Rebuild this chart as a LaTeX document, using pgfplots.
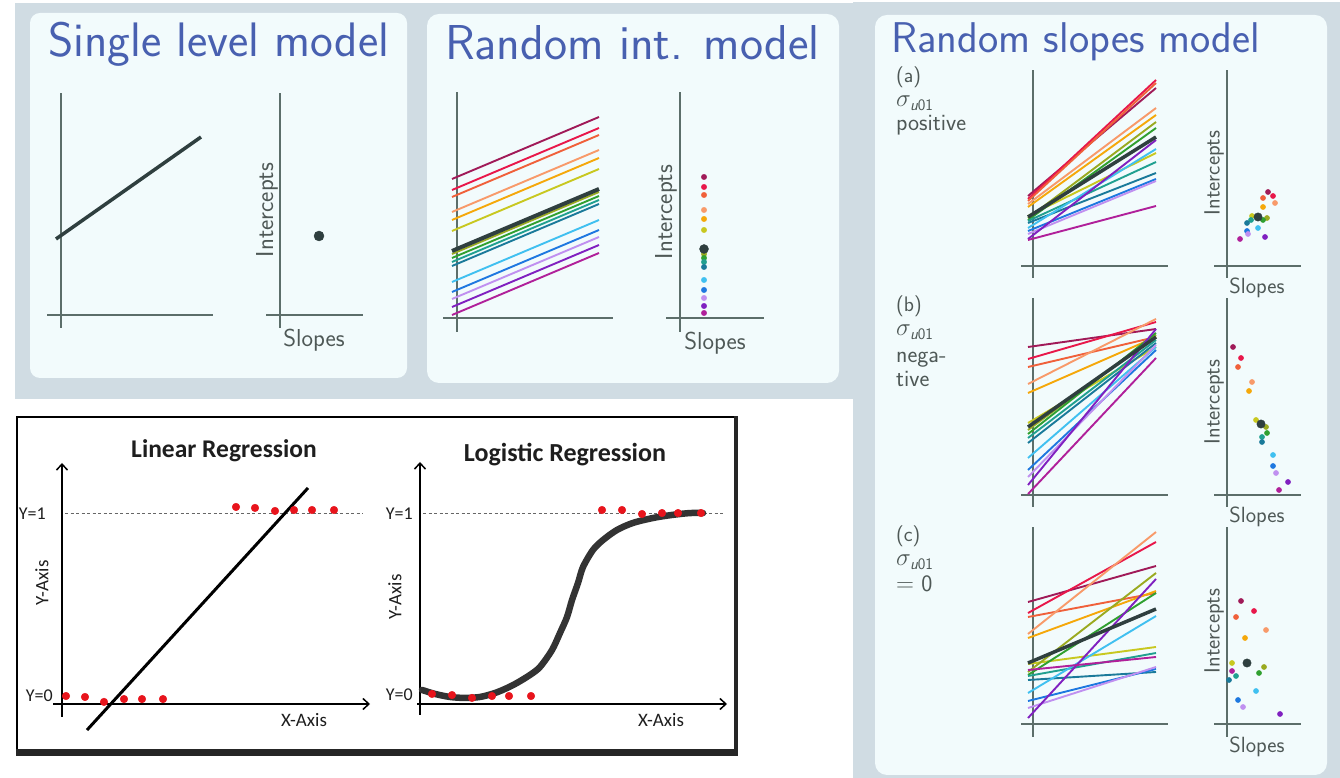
\documentclass[border=0pt]{standalone}
\usepackage{amsmath}
\usepackage{fontspec}
\newfontfamily\carlito{Carlito}
\usepackage{pgfplots}
\pgfplotsset{compat=1.18}
\usetikzlibrary{arrows.meta}

\definecolor{bgGray}{RGB}{208,220,227}
\definecolor{panel}{RGB}{242,251,252}
\definecolor{titleBlue}{RGB}{72,96,176}
\definecolor{axGray}{RGB}{92,110,106}
\definecolor{txtGray}{RGB}{78,88,86}
\definecolor{darkSl}{RGB}{47,63,63}
\definecolor{cMaroon}{RGB}{160,26,88}
\definecolor{cRed}{RGB}{232,23,74}
\definecolor{cOrRed}{RGB}{240,96,58}
\definecolor{cSalmon}{RGB}{248,154,106}
\definecolor{cOrange}{RGB}{245,168,10}
\definecolor{cYellow}{RGB}{200,200,32}
\definecolor{cOlive}{RGB}{154,170,32}
\definecolor{cGreen}{RGB}{48,160,48}
\definecolor{cTeal}{RGB}{32,160,144}
\definecolor{cTealBlue}{RGB}{26,122,154}
\definecolor{cCyan}{RGB}{64,192,240}
\definecolor{cBlue}{RGB}{30,120,224}
\definecolor{cLav}{RGB}{192,144,240}
\definecolor{cPurple}{RGB}{128,32,192}
\definecolor{cMagenta}{RGB}{176,32,154}
\definecolor{regRed}{RGB}{232,20,28}
\definecolor{regTxt}{RGB}{30,30,30}

\pgfplotsset{
  schem/.style={hide axis, scale only axis, clip=false, anchor=south west},
  ln/.style={line width=1.9pt, no marks},
  rainbow/.style={scatter/classes={
    a={mark=*,cMaroon}, b={mark=*,cRed}, c={mark=*,cOrRed}, d={mark=*,cSalmon},
    e={mark=*,cOrange}, f={mark=*,cYellow}, g={mark=*,cOlive}, h={mark=*,cGreen},
    i={mark=*,cTeal}, j={mark=*,cTealBlue}, k={mark=*,cCyan}, l={mark=*,cBlue},
    m={mark=*,cLav}, n={mark=*,cPurple}, o={mark=*,cMagenta}}},
}
\tikzset{axline/.style={axGray, line width=1.6pt}}
\newcommand\Ln[5]{\addplot[ln,#1] coordinates {(#2,#3) (#4,#5)};}
\newcommand\sig{$\sigma_{\textsf{\itshape u}\textsf{01}}$}

\begin{document}
\begin{tikzpicture}[x=1pt,y=1pt]
% ---------- backgrounds ----------
\fill[white] (0,0) rectangle (1340,778);
\fill[bgGray] (15,{778-3}) rectangle (860,{778-399});
\fill[bgGray] (853,0) rectangle (1340,{778-2});
\fill[panel, rounded corners=10pt] (30,{778-13}) rectangle (407,{778-378});
\fill[panel, rounded corners=12pt] (427,{778-14}) rectangle (839,{778-383});
\fill[panel, rounded corners=12pt] (875,{778-15}) rectangle (1327,{778-775});
% bottom-left framed box
\fill[white] (17,{778-417}) rectangle (736,{778-752});
\draw[black, line width=2pt] (17,{778-417}) rectangle (736,{778-752});
\fill[black!85] (16,{778-749}) rectangle (738,{778-756});
\fill[black!85] (734,{778-416}) rectangle (738,{778-756});

% ---------- titles and labels ----------
\begin{scope}[every node/.style={inner sep=0pt}]
\node[anchor=base west, titleBlue, font=\fontsize{48.4}{52}\selectfont\sffamily] at (48,{778-57}) {Single level model};
\node[anchor=base west, titleBlue, font=\fontsize{49}{52}\selectfont\sffamily] at (445,{778-60}) {Random int. model};
\node[anchor=base west, titleBlue, font=\fontsize{43}{46}\selectfont\sffamily] at (891,{778-53}) {Random slopes model};
\node[rotate=90, txtGray, font=\fontsize{24.5}{26}\selectfont\sffamily] at (267,{778-210}) {Intercepts};
\node[txtGray, font=\fontsize{24.5}{26}\selectfont\sffamily] at (314,{778-340}) {Slopes};
\node[rotate=90, txtGray, font=\fontsize{24.5}{26}\selectfont\sffamily] at (666,{778-212}) {Intercepts};
\node[txtGray, font=\fontsize{24.5}{26}\selectfont\sffamily] at (715,{778-343}) {Slopes};
\foreach \yy in {173,402,631} {\node[rotate=90, txtGray, font=\fontsize{22}{24}\selectfont\sffamily] at (1214,{778-\yy}) {Intercepts};}
\foreach \yy in {288,517,747} {\node[txtGray, font=\fontsize{22}{24}\selectfont\sffamily] at (1257,{778-\yy}) {Slopes};}
\node[anchor=base west, txtGray, font=\fontsize{21}{22}\selectfont\sffamily] at (896,{778-83}) {(a)};
\node[anchor=base west, txtGray, font=\fontsize{23}{24}\selectfont\sffamily] at (896,{778-107}) {\sig};
\node[anchor=base west, txtGray, font=\fontsize{23.5}{24}\selectfont\sffamily] at (896,{778-131}) {positive};
\node[anchor=base west, txtGray, font=\fontsize{21}{22}\selectfont\sffamily] at (896,{778-312}) {(b)};
\node[anchor=base west, txtGray, font=\fontsize{23}{24}\selectfont\sffamily] at (896,{778-336}) {\sig};
\node[anchor=base west, txtGray, font=\fontsize{23.5}{24}\selectfont\sffamily] at (896,{778-363}) {nega-};
\node[anchor=base west, txtGray, font=\fontsize{23.5}{24}\selectfont\sffamily] at (896,{778-387}) {tive};
\node[anchor=base west, txtGray, font=\fontsize{21}{22}\selectfont\sffamily] at (896,{778-542}) {(c)};
\node[anchor=base west, txtGray, font=\fontsize{23}{24}\selectfont\sffamily] at (896,{778-566}) {\sig};
\node[anchor=base west, txtGray, font=\fontsize{23.5}{24}\selectfont\sffamily] at (896,{778-592}) {$=$ 0};
\node[anchor=base, regTxt, font=\carlito\bfseries\fontsize{25.5}{28}\selectfont] at (224,{778-458}) {Linear Regression};
\node[anchor=base, regTxt, font=\carlito\bfseries\fontsize{26}{28}\selectfont] at (565,{778-462}) {Logistic Regression};
\node[anchor=east, regTxt, font=\carlito\fontsize{18}{20}\selectfont] at (46,{778-514}) {Y=1};
\node[anchor=east, regTxt, font=\carlito\fontsize{18}{20}\selectfont] at (53,{778-696}) {Y=0};
\node[rotate=90, regTxt, font=\carlito\fontsize{19}{20}\selectfont] at (42,{778-583}) {Y-Axis};
\node[regTxt, font=\carlito\fontsize{19}{20}\selectfont] at (304,{778-720}) {X-Axis};
\node[anchor=east, regTxt, font=\carlito\fontsize{18}{20}\selectfont] at (413,{778-514}) {Y=1};
\node[anchor=east, regTxt, font=\carlito\fontsize{18}{20}\selectfont] at (413,{778-695}) {Y=0};
\node[rotate=90, regTxt, font=\carlito\fontsize{19}{20}\selectfont] at (395,{778-597}) {Y-Axis};
\node[regTxt, font=\carlito\fontsize{19}{20}\selectfont] at (661,{778-720}) {X-Axis};
\end{scope}

% ---------- Single level model ----------
\begin{axis}[schem, at={(47pt,450pt)}, width=166pt, height=235pt, xmin=-14, xmax=152, ymin=-13, ymax=222]
\draw[axline] (axis cs:-14,0) -- (axis cs:152,0);
\draw[axline] (axis cs:0,-13) -- (axis cs:0,222);
\addplot[no marks, darkSl, line width=3.5pt] coordinates {(-5,76) (140,178)};
\end{axis}
\begin{axis}[schem, at={(266pt,450pt)}, width=97pt, height=235pt, xmin=-14, xmax=83, ymin=-13, ymax=222]
\draw[axline] (axis cs:-14,0) -- (axis cs:83,0);
\draw[axline] (axis cs:0,-13) -- (axis cs:0,222);
\addplot[only marks, mark=*, darkSl, mark size=5pt] coordinates {(39,79)};
\end{axis}

% ---------- Random intercept model ----------
\begin{axis}[schem, at={(443pt,446pt)}, width=170pt, height=240pt, xmin=-14, xmax=156, ymin=-14, ymax=226]
\draw[axline] (axis cs:-14,0) -- (axis cs:156,0);
\draw[axline] (axis cs:0,-14) -- (axis cs:0,226);
\Ln{cMaroon}{-5}{139}{142}{201}
\Ln{cRed}{-5}{128}{142}{190}
\Ln{cOrRed}{-5}{121}{142}{183}
\Ln{cSalmon}{-5}{106}{142}{168}
\Ln{cOrange}{-5}{98}{142}{160}
\Ln{cYellow}{-5}{87}{142}{149}
\Ln{cOlive}{-5}{64}{142}{126}
\Ln{cGreen}{-5}{60}{142}{122}
\Ln{cTeal}{-5}{56}{142}{118}
\Ln{cTealBlue}{-5}{52}{142}{114}
\Ln{cCyan}{-5}{36}{142}{98}
\Ln{cBlue}{-5}{26}{142}{88}
\Ln{cLav}{-5}{19}{142}{81}
\Ln{cPurple}{-5}{11}{142}{73}
\Ln{cMagenta}{-5}{3}{142}{65}
\addplot[no marks, darkSl, line width=4pt] coordinates {(-5,67) (142,129)};
\end{axis}
\begin{axis}[schem, at={(666pt,446pt)}, width=98pt, height=240pt, xmin=-14, xmax=84, ymin=-14, ymax=226]
\draw[axline] (axis cs:-14,0) -- (axis cs:84,0);
\draw[axline] (axis cs:0,-14) -- (axis cs:0,226);
\addplot[scatter, only marks, scatter src=explicit symbolic, mark size=2.7pt, rainbow] table[meta=c] {
x y c
24 141 a
24 131 b
24 123 c
24 108 d
24 99 e
24 88 f
24 64 g
24 60 h
24 56 i
24 51 j
24 38 k
24 28 l
24 20 m
24 12 n
24 5 o
};
\addplot[only marks, mark=*, darkSl, mark size=4.5pt] coordinates {(24,69)};
\end{axis}

% ---------- Random slopes (a) ----------
\begin{axis}[schem, at={(1021pt,500pt)}, width=147pt, height=208pt, xmin=-12, xmax=135, ymin=-12, ymax=196]
\draw[axline] (axis cs:-12,0) -- (axis cs:135,0);
\draw[axline] (axis cs:0,-12) -- (axis cs:0,196);
\Ln{cMaroon}{-5}{70}{123}{178}
\Ln{cRed}{-5}{67}{123}{186}
\Ln{cOrRed}{-5}{65}{123}{183}
\Ln{cSalmon}{-5}{62}{123}{158}
\Ln{cOrange}{-5}{59}{123}{151}
\Ln{cYellow}{-5}{50}{123}{113}
\Ln{cOlive}{-5}{48}{123}{144}
\Ln{cGreen}{-5}{46}{123}{138}
\Ln{cTeal}{-5}{45}{123}{104}
\Ln{cTealBlue}{-5}{43}{123}{93}
\Ln{cCyan}{-5}{38}{123}{117}
\Ln{cBlue}{-5}{35}{123}{87}
\Ln{cLav}{-5}{32}{123}{85}
\Ln{cPurple}{-5}{27}{123}{126}
\Ln{cMagenta}{-5}{26}{123}{60}
\addplot[no marks, darkSl, line width=3.5pt] coordinates {(-5,49) (123,129)};
\end{axis}
\begin{axis}[schem, at={(1214pt,500pt)}, width=87pt, height=208pt, xmin=-13, xmax=74, ymin=-12, ymax=196]
\draw[axline] (axis cs:-13,0) -- (axis cs:74,0);
\draw[axline] (axis cs:0,-12) -- (axis cs:0,196);
\addplot[scatter, only marks, scatter src=explicit symbolic, mark size=2.6pt, rainbow] table[meta=c] {
x y c
41 74 a
46 70 b
36 68 c
48 63 d
36 59 e
25 50 f
40 48 g
36 46 h
24 46 i
20 43 j
31 38 k
20 35 l
21 32 m
38 29 n
13 27 o
};
\addplot[only marks, mark=*, darkSl, mark size=4.2pt] coordinates {(31,49)};
\end{axis}

% ---------- Random slopes (b) ----------
\begin{axis}[schem, at={(1021pt,271pt)}, width=147pt, height=209pt, xmin=-12, xmax=135, ymin=-12, ymax=197]
\draw[axline] (axis cs:-12,0) -- (axis cs:135,0);
\draw[axline] (axis cs:0,-12) -- (axis cs:0,197);
\Ln{cMaroon}{-5}{148}{123}{166}
\Ln{cRed}{-5}{136}{123}{173}
\Ln{cOrRed}{-5}{128}{123}{158}
\Ln{cSalmon}{-5}{111}{123}{176}
\Ln{cOrange}{-5}{102}{123}{158}
\Ln{cYellow}{-5}{72}{123}{148}
\Ln{cOlive}{-5}{65}{123}{160}
\Ln{cGreen}{-5}{61}{123}{162}
\Ln{cTeal}{-5}{57}{123}{155}
\Ln{cTealBlue}{-5}{52}{123}{152}
\Ln{cCyan}{-5}{37}{123}{148}
\Ln{cBlue}{-5}{25}{123}{145}
\Ln{cLav}{-5}{18}{123}{150}
\Ln{cPurple}{-5}{10}{123}{166}
\Ln{cMagenta}{-5}{1}{123}{137}
\addplot[no marks, darkSl, line width=3.5pt] coordinates {(-5,68) (123,158)};
\end{axis}
\begin{axis}[schem, at={(1214pt,271pt)}, width=87pt, height=209pt, xmin=-13, xmax=74, ymin=-12, ymax=197]
\draw[axline] (axis cs:-13,0) -- (axis cs:74,0);
\draw[axline] (axis cs:0,-12) -- (axis cs:0,197);
\addplot[scatter, only marks, scatter src=explicit symbolic, mark size=2.6pt, rainbow] table[meta=c] {
x y c
6 148 a
14 137 b
11 128 c
25 113 d
22 104 e
29 75 f
39 68 g
40 62 h
35 58 i
35 53 j
46 40 k
46 29 l
49 22 m
61 13 n
52 5 o
};
\addplot[only marks, mark=*, darkSl, mark size=4.2pt] coordinates {(34,71)};
\end{axis}

% ---------- Random slopes (c) ----------
\begin{axis}[schem, at={(1021pt,41pt)}, width=147pt, height=210pt, xmin=-12, xmax=135, ymin=-13, ymax=197]
\draw[axline] (axis cs:-12,0) -- (axis cs:135,0);
\draw[axline] (axis cs:0,-13) -- (axis cs:0,197);
\Ln{cMaroon}{-5}{122}{123}{158}
\Ln{cRed}{-5}{111}{123}{182}
\Ln{cOrRed}{-5}{107}{123}{131}
\Ln{cSalmon}{-5}{90}{123}{192}
\Ln{cOrange}{-5}{86}{123}{133}
\Ln{cYellow}{-5}{60}{123}{77}
\Ln{cOlive}{-5}{52}{123}{151}
\Ln{cGreen}{-5}{49}{123}{131}
\Ln{cTeal}{-5}{48}{123}{71}
\Ln{cTealBlue}{-5}{44}{123}{52}
\Ln{cCyan}{-5}{31}{123}{108}
\Ln{cBlue}{-5}{23}{123}{55}
\Ln{cLav}{-5}{16}{123}{57}
\Ln{cPurple}{-5}{6}{123}{145}
\Ln{cMagenta}{-5}{54}{123}{67}
\addplot[no marks, darkSl, line width=3.5pt] coordinates {(-5,61) (123,115)};
\end{axis}
\begin{axis}[schem, at={(1214pt,41pt)}, width=87pt, height=210pt, xmin=-13, xmax=74, ymin=-13, ymax=197]
\draw[axline] (axis cs:-13,0) -- (axis cs:74,0);
\draw[axline] (axis cs:0,-13) -- (axis cs:0,197);
\addplot[scatter, only marks, scatter src=explicit symbolic, mark size=2.6pt, rainbow] table[meta=c] {
x y c
14 123 a
27 113 b
9 107 c
39 94 d
18 86 e
5 61 f
37 57 g
32 51 h
9 48 i
2 44 j
29 33 k
11 24 l
16 17 m
53 10 n
5 53 o
};
\addplot[only marks, mark=*, darkSl, mark size=4.2pt] coordinates {(20,61)};
\end{axis}

% ---------- Linear regression ----------
\begin{axis}[schem, at={(53pt,48pt)}, width=317pt, height=267pt, xmin=-9, xmax=308, ymin=-0.13684, ymax=1.26842]
\draw[black, line width=1.5pt, -{Straight Barb[length=6pt,width=11pt]}] (axis cs:0,-0.0684) -- (axis cs:0,1.2684);
\draw[black, line width=1.5pt, -{Straight Barb[length=6pt,width=11pt]}] (axis cs:-9,0) -- (axis cs:308,0);
\addplot[no marks, black!60, line width=1pt, dash pattern=on 3pt off 2.5pt] coordinates {(3,1) (301,1)};
\addplot[no marks, black, line width=3pt] coordinates {(25,-0.137) (246,1.137)};
\addplot[only marks, mark=*, regRed, mark size=3.8pt] coordinates {
(174,1.037) (193,1.032) (213,1.016) (232,1.021) (250,1.021) (272,1.021)
(4,0.042) (23,0.037) (42,0.011) (62,0.026) (80,0.026) (101,0.026)};
\end{axis}

% ---------- Logistic regression ----------
\begin{axis}[schem, at={(417pt,63pt)}, width=310pt, height=253pt, xmin=-3, xmax=307, ymin=-0.05789, ymax=1.27368]
\draw[black, line width=1.5pt, -{Straight Barb[length=6pt,width=11pt]}] (axis cs:0,-0.05789) -- (axis cs:0,1.2737);
\draw[black, line width=1.5pt, -{Straight Barb[length=6pt,width=11pt]}] (axis cs:-3,0) -- (axis cs:307,0);
\addplot[no marks, black!60, line width=1pt, dash pattern=on 3pt off 2.5pt] coordinates {(3,1) (305,1)};
\addplot[no marks, smooth, black!80, line width=6.5pt, line cap=round] coordinates {
(2,0.074) (15,0.053) (30,0.037) (45,0.032) (60,0.037) (75,0.058) (87,0.084) (97,0.111)
(110,0.153) (120,0.195) (132,0.284) (140,0.374) (147,0.458) (152,0.547) (158,0.637)
(163,0.721) (173,0.811) (183,0.863) (197,0.916) (213,0.953) (233,0.979) (252,0.995)
(270,1.005) (283,1.005)};
\addplot[only marks, mark=*, regRed, mark size=3.8pt] coordinates {
(182,1.021) (202,1.021) (222,1.0) (242,1.005) (258,1.005) (281,1.005)
(12,0.053) (32,0.047) (52,0.032) (72,0.042) (89,0.042) (111,0.042)};
\end{axis}

\pgfresetboundingbox
\path[use as bounding box] (0,0) rectangle (1340,778);
\end{tikzpicture}
\end{document}
